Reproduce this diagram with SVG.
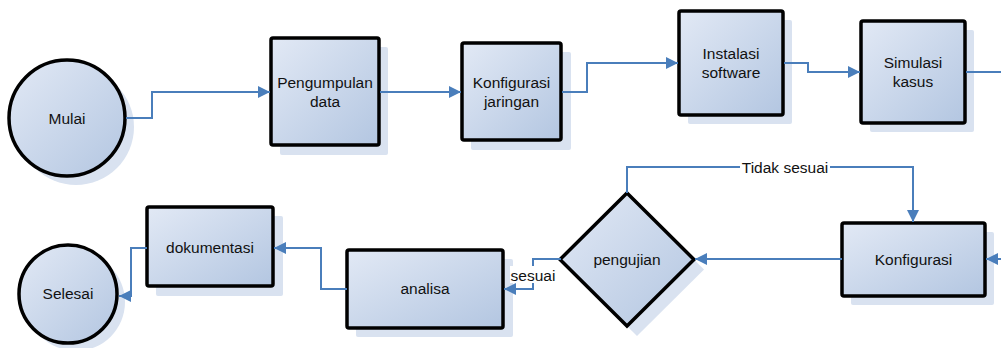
<svg xmlns="http://www.w3.org/2000/svg" width="1001" height="348" viewBox="0 0 1001 348">
<defs>
<linearGradient id="g" x1="0" y1="0" x2="1" y2="1">
<stop offset="0" stop-color="#e2e9f5"/>
<stop offset="1" stop-color="#b3c6e1"/>
</linearGradient>
<marker id="a" viewBox="0 0 12 12" refX="12" refY="6" markerWidth="12" markerHeight="12" markerUnits="userSpaceOnUse" orient="auto">
<path d="M0,0 L12,6 L0,12 Z" fill="#4a7ebb"/>
</marker>
<style>
.n{fill:url(#g);stroke:#000;stroke-width:3.5}
.s{fill:#d9e2f0;stroke:none}
.t{font-family:"Liberation Sans",Arial,sans-serif;font-size:15.5px;fill:#111;text-anchor:middle}
.c{fill:none;stroke:#4a7ebb;stroke-width:2}
.c2{fill:none;stroke:#4a7ebb;stroke-width:2;marker-end:url(#a)}
.lb{fill:#fff}
</style>
</defs>
<rect width="1001" height="348" fill="#fff"/>
<g id="mulai">
<circle class="s" cx="76" cy="127" r="58"/>
<circle class="n" cx="67" cy="118" r="58"/>
<text class="t" x="67" y="123.5">Mulai</text>
</g>
<g id="pengumpulan">
<rect class="s" x="280" y="47" width="108" height="108" rx="2"/>
<rect class="n" x="271" y="38" width="108" height="107" rx="2"/>
<text class="t" x="325" y="88">Pengumpulan</text>
<text class="t" x="325" y="107">data</text>
</g>
<g id="konfigurasi-jaringan">
<rect class="s" x="471" y="52" width="100" height="98" rx="2"/>
<rect class="n" x="462" y="43" width="99" height="97" rx="2"/>
<text class="t" x="511.5" y="87.5">Konfigurasi</text>
<text class="t" x="511.5" y="107">jaringan</text>
</g>
<g id="instalasi">
<rect class="s" x="688" y="20" width="104" height="104" rx="2"/>
<rect class="n" x="679" y="11" width="104" height="104" rx="2"/>
<text class="t" x="731" y="58.5">Instalasi</text>
<text class="t" x="731" y="77.5">software</text>
</g>
<g id="simulasi">
<rect class="s" x="870" y="30" width="104" height="102" rx="2"/>
<rect class="n" x="861" y="21" width="104" height="102" rx="2"/>
<text class="t" x="913" y="67.5">Simulasi</text>
<text class="t" x="913" y="86.5">kasus</text>
</g>
<g id="konfigurasi">
<rect class="s" x="851" y="232" width="143" height="73" rx="2"/>
<rect class="n" x="842" y="223" width="143" height="73" rx="2"/>
<text class="t" x="913.5" y="264.5">Konfigurasi</text>
</g>
<g id="pengujian">
<polygon class="s" points="637,203 704,269.5 637,336 570,269.5"/>
<polygon class="n" points="627,193 694,259.5 627,326 560,259.5" stroke-linejoin="miter"/>
<text class="t" x="627" y="264.5">pengujian</text>
</g>
<g id="analisa">
<rect class="s" x="356" y="259" width="157" height="78" rx="2"/>
<rect class="n" x="347" y="250" width="156" height="78" rx="2"/>
<text class="t" x="425" y="294">analisa</text>
</g>
<g id="dokumentasi">
<rect class="s" x="156" y="216" width="127" height="80" rx="2"/>
<rect class="n" x="147" y="207" width="126" height="79" rx="2"/>
<text class="t" x="210" y="253">dokumentasi</text>
</g>
<g id="selesai">
<circle class="s" cx="76" cy="302" r="49"/>
<circle class="n" cx="68" cy="294" r="49"/>
<text class="t" x="68" y="299">Selesai</text>
</g>
<g id="connectors">
<polyline class="c2" points="126,118 152,118 152,92 270,92"/>
<polyline class="c2" points="380,92 461,92"/>
<polyline class="c2" points="562,92 587,92 587,63 678,63"/>
<polyline class="c2" points="784,63 808,63 808,72 860,72"/>
<polyline class="c" points="966,72 1001,72"/>
<polyline class="c2" points="1001,259 986,259"/>
<polyline class="c2" points="842,259 695,259"/>
<polyline class="c2" points="627,193 627,167 913,167 913,222"/>
<polyline class="c2" points="561,259 533,259 533,289 504,289"/>
<polyline class="c2" points="347,289 321,289 321,248 274,248"/>
<polyline class="c2" points="147,248 131,248 131,296 119,296"/>
<rect class="lb" x="740" y="158" width="90" height="18"/>
<text class="t" x="785" y="172.5">Tidak sesuai</text>
<rect class="lb" x="510" y="266" width="46" height="17"/>
<text class="t" x="533" y="281">sesuai</text>
</g>
</svg>
